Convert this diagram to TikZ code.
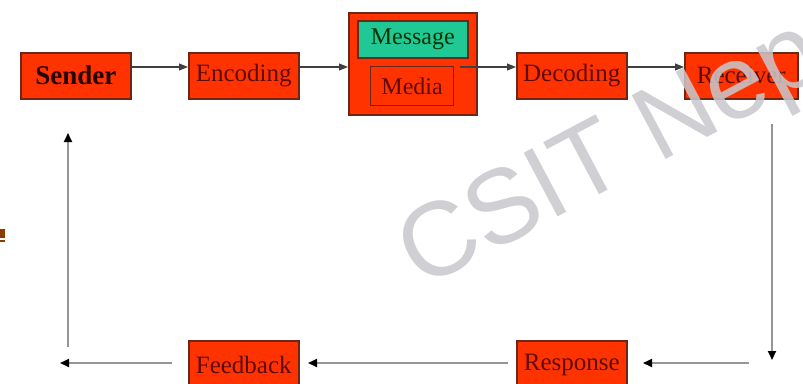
\documentclass[tikz,border=0pt]{standalone}
\usepackage{fontspec}
\setmainfont{Liberation Serif}
\newfontfamily\wmfont{Liberation Sans}
\usetikzlibrary{arrows.meta}
\definecolor{boxred}{RGB}{255,51,0}
\definecolor{boxedge}{RGB}{105,40,25}
\definecolor{msggreen}{RGB}{32,200,150}
\definecolor{txtred}{RGB}{95,10,10}
\definecolor{wmgray}{RGB}{200,200,205}
\definecolor{linegray}{RGB}{150,150,150}
\definecolor{markbrown}{RGB}{140,60,0}
\begin{document}
\begin{tikzpicture}[x=1pt,y=-1pt,
  box/.style={draw=boxedge, line width=1.5pt, fill=boxred, minimum width=110pt,
    minimum height=46pt, inner sep=0pt, text=txtred, anchor=north west,
    font=\fontsize{25}{25}\selectfont},
  arr/.style={-{Triangle[length=9pt,width=7pt]}, line width=1.2pt, draw=black!75},
  garr/.style={-{Triangle[length=9pt,width=8pt,color=black]}, line width=2pt, draw=linegray}]
\clip (0,0) rectangle (803,383);
\fill[white] (0,0) rectangle (803,383);
% boxes
\node[box, font=\bfseries\fontsize{27}{27}\selectfont, text=black!85!red] (send) at (20,52) {Sender};
\node[box] (enc) at (188,52) {Encoding};
\node[box, minimum width=128pt, minimum height=102pt] (outer) at (348,12) {};
\node[box, fill=msggreen, text=black!80!green, minimum width=110pt, minimum height=37pt,
  font=\fontsize{24}{24}\selectfont] (msg) at (357,20) {Message};
\node[box, line width=1.2pt, minimum width=83pt, minimum height=39pt,
  font=\fontsize{24}{24}\selectfont] (media) at (370,66) {Media};
\node[box] (dec) at (516,52) {Decoding};
\node[box, minimum width=113pt] (recv) at (684,52) {Receiver};
\node[box, minimum height=48pt] (resp) at (516,340) {Response};
\node[box, minimum height=48pt] (feed) at (188,340) {Feedback};
% connector helper coordinates
\coordinate (row) at (0,67);
\coordinate (o1) at (460,67);
\coordinate (r1) at (772,124);
\coordinate (r2) at (772,360);
\coordinate (b1) at (749,363);
\coordinate (b2) at (643,363);
\coordinate (b3) at (508,363);
\coordinate (b4) at (308,363);
\coordinate (b5) at (172,363);
\coordinate (b6) at (60,363);
\coordinate (l1) at (68,347);
\coordinate (l2) at (68,133);
% top arrows
\draw[arr] (send.east |- row) -- (enc.west |- row);
\draw[arr] (enc.east |- row) -- (outer.west |- row);
\draw[arr] (o1) -- (dec.west |- row);
\draw[arr] (dec.east |- row) -- (recv.west |- row);
% feedback loop
\draw[garr] (r1) -- (r2);
\draw[garr] (b1) -- (b2);
\draw[garr] (b3) -- (b4);
\draw[garr] (b5) -- (b6);
\draw[garr] (l1) -- (l2);
% small brown mark at left edge
\fill[markbrown] (0,229) rectangle (5,238);
\fill[markbrown] (0,240) rectangle (5,242);
% watermark
\node[rotate=28, anchor=base west, inner sep=0pt, text=wmgray, opacity=0.85,
  font=\wmfont\fontsize{105}{105}\selectfont] (wm) at (421,290) {CSIT Nep};
\end{tikzpicture}
\end{document}
